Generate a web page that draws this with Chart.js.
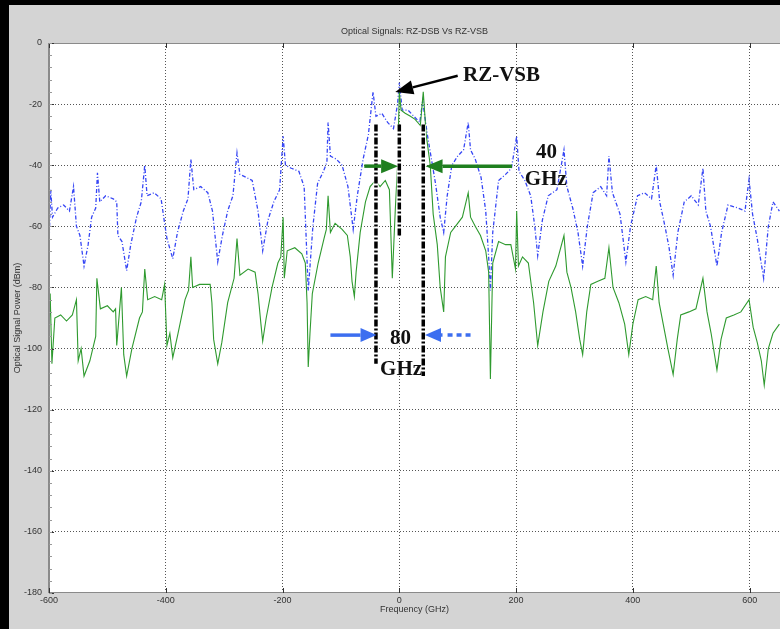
<!DOCTYPE html>
<html><head><meta charset="utf-8">
<script src="https://cdn.jsdelivr.net/npm/chart.js@4.4.0/dist/chart.umd.min.js"></script>
<style>html,body{margin:0;padding:0;background:#d4d4d4;overflow:hidden}canvas{display:block}</style>
</head><body>
<canvas id="c" width="780" height="629"></canvas>
<script>
// ---------- data ----------
const chartTitle = 'Optical Signals: RZ-DSB Vs RZ-VSB';
const xTitle = 'Frequency (GHz)';
const yTitle = 'Optical Signal Power (dBm)';
const xTicks = [-600, -400, -200, 0, 200, 400, 600];
const yTicks = [0, -20, -40, -60, -80, -100, -120, -140, -160, -180];

// RZ-VSB (green, solid)
const vsbFreq = [-600,-598,-595,-590,-580,-570,-560,-553,-550,-545,-540,-530,-520,-518,-512,-500,-490,-486,-484,-476,-472,-467,-458,-445,-440,-436,-431,-419,-407,-402,-398,-393,-388,-379,-367,-361,-357,-354,-342,-324,-321,-318,-311,-304,-294,-283,-278,-273,-259,-247,-242,-237,-234,-228,-218,-208,-203,-199,-197,-192,-179,-167,-161,-158,-156,-153,-149,-139,-129,-125,-122,-118,-110,-98,-89,-84,-81,-77,-74,-67,-58,-50,-41,-33,-24,-17,-12,-7,-3,0,3,10,19,27,36,41,46,53,58,65,70,76,79,88,96,108,118,122,130,139,148,153,156,160,170,182,191,199,201,204,211,221,230,237,246,256,268,282,287,294,302,309,314,321,328,340,352,359,366,376,386,393,400,409,422,434,440,445,452,460,469,476,482,496,508,520,527,534,544,551,560,573,585,599,606,613,620,625,632,640,651];
const vsbPower = [-95,-82,-105,-90,-89,-91,-89,-84,-104,-100,-109,-104,-96,-77,-87,-86,-88,-87,-99,-80,-102,-109,-100,-90,-88,-74,-84,-83,-84,-79,-99,-95,-103,-95,-84,-81,-70,-80,-79,-79,-85,-97,-105,-98,-85,-77,-64,-76,-74,-75,-82,-92,-97.6,-90,-80,-72,-70,-57,-77,-68,-67,-69,-72,-85,-106,-95,-82,-72,-64,-61,-50,-62,-59,-61,-63,-70,-78,-83,-75,-62,-52,-47,-45,-47,-45,-48,-77,-55,-40,-16,-22,-23,-24,-25,-27,-16,-30,-40,-56,-66,-80,-88,-70,-62,-60,-57,-49,-57,-60,-63,-68,-75,-110,-72,-65,-66,-66,-74,-55,-73,-70,-72,-85,-99,-88,-78,-73,-63,-75,-80,-88,-97,-102,-88,-79,-78,-77,-67,-80,-85,-92,-102,-92,-84,-83,-84,-73,-85,-92,-100,-108.5,-97,-89,-88,-87,-77,-88,-95,-107,-97,-90,-89,-88,-84,-93,-98,-104,-112,-100,-95,-92];

// RZ-DSB (blue, dash-dot)
const dsbFreq = [-600,-597,-594,-585,-575,-565,-558,-553,-547,-540,-533,-527,-520,-517,-513,-503,-490,-484,-482,-475,-467,-460,-450,-442,-436,-432,-420,-408,-402,-398,-388,-380,-370,-362,-357,-352,-340,-328,-320,-311,-303,-294,-285,-278,-273,-262,-252,-242,-234,-225,-215,-205,-199,-195,-185,-172,-163,-156,-148,-140,-130,-124,-122,-118,-108,-98,-88,-79,-72,-62,-53,-45,-40,-30,-20,-10,-3,0,5,15,25,35,40,48,55,62,70,76,82,90,100,110,118,122,130,140,148,153,156,160,170,182,192,201,205,215,225,232,237,245,255,270,282,287,297,306,314,322,332,345,355,359,365,378,388,396,408,420,432,440,446,455,462,469,477,488,500,512,520,525,533,544,552,563,580,592,599,605,613,624,632,640,651];
const dsbPower = [-66,-48,-57,-54,-53,-55,-47,-60,-63,-73,-66,-57,-54,-42.5,-52,-50,-51,-52,-63,-65,-74.5,-66,-57,-52,-40,-50,-49,-51,-59,-64,-70.6,-62,-55,-51,-38,-48,-47,-49,-55,-71.6,-63,-55,-50,-36,-43,-44,-45,-55,-68,-58,-52,-48,-30.5,-40,-41,-42,-47,-81,-60,-46,-42,-39,-26,-37,-38,-40,-47,-61,-50,-38,-30,-16,-24,-23,-26,-28,-20,-13,-22,-22,-24,-26,-19,-30,-38,-46,-57,-62,-50,-40,-37,-35,-26,-35,-38,-44,-55,-70,-81,-62,-45,-43,-41,-30.5,-42,-45,-50,-60,-69.6,-58,-50,-48,-35,-47,-54,-62,-73,-60,-49,-47,-50,-37,-49,-56,-71.6,-60,-50,-49,-51,-40,-52,-60,-67,-76,-62,-52,-50,-53,-41,-55,-60,-73,-62,-53,-54,-55,-44.6,-56,-64,-77,-60,-52,-55];

// annotation marks (data units)
const bracketLines = [[-40, -26.7, -105], [0, -26.7, -63], [41, -26.7, -109]];
const greenArrows = [[-60, -40.3, -2, -40.3], [193, -40.3, 45, -40.3]];
const blackArrow = [100, -10.7, -7, -16];
const blueArrows = [[-118, -95.6, -39, -95.6], [74, -95.6, 44, -95.6]];
const blueDotTail = [122, -95.6, 76, -95.6];
const labels = [['RZ-VSB', 175, -10.8], ['40', 252, -35.8], ['GHz', 251, -44.6], ['80', 2, -96.6], ['GHz', 3, -106.8]];

// ---------- plugins ----------
const FONT = '"Liberation Sans", Arial, sans-serif';
const bgPlugin = {
  id: 'bg',
  beforeDraw(chart) {
    const {ctx, chartArea: a} = chart;
    ctx.save();
    ctx.fillStyle = '#d4d4d4';
    ctx.fillRect(0, 0, chart.width, chart.height);
    ctx.fillStyle = '#000';
    ctx.fillRect(0, 0, chart.width, 5);
    ctx.fillRect(0, 0, 9, chart.height);
    ctx.fillStyle = '#fff';
    ctx.fillRect(a.left, a.top, a.right - a.left, a.bottom - a.top);
    ctx.restore();
  },
  afterDraw(chart) {
    const {ctx, chartArea: a, scales: {x, y}} = chart;
    ctx.save();
    ctx.strokeStyle = '#8a8a8a';
    ctx.lineWidth = 1;
    ctx.strokeRect(a.left + 0.5, a.top + 0.5, a.right - a.left, a.bottom - a.top - 1);
    ctx.lineWidth = 2;
    ctx.beginPath(); ctx.moveTo(a.left, a.top); ctx.lineTo(a.left, a.bottom); ctx.stroke();
    // major ticks (inside)
    ctx.strokeStyle = '#333'; ctx.lineWidth = 1;
    ctx.beginPath();
    xTicks.forEach(v => {
      const px = Math.round(x.getPixelForValue(v)) + 0.5;
      ctx.moveTo(px, a.top); ctx.lineTo(px, a.top + 5);
      ctx.moveTo(px, a.bottom); ctx.lineTo(px, a.bottom - 5);
    });
    yTicks.forEach(v => {
      const py = Math.round(y.getPixelForValue(v)) + 0.5;
      ctx.moveTo(a.left, py); ctx.lineTo(a.left + 5, py);
    });
    ctx.stroke();
    // minor ticks on y
    ctx.strokeStyle = '#999';
    ctx.beginPath();
    for (let v = -180; v <= 0; v += 4) {
      const py = Math.round(y.getPixelForValue(v)) + 0.5;
      ctx.moveTo(a.left, py); ctx.lineTo(a.left + 3, py);
    }
    ctx.stroke();
    ctx.restore();
  }
};

function arrow(ctx, x1, y1, x2, y2, color, w, hl, hw) {
  const ang = Math.atan2(y2 - y1, x2 - x1);
  const bx = x2 - hl * Math.cos(ang), by = y2 - hl * Math.sin(ang);
  ctx.strokeStyle = color; ctx.fillStyle = color; ctx.lineWidth = w; ctx.setLineDash([]);
  ctx.beginPath(); ctx.moveTo(x1, y1); ctx.lineTo(bx, by); ctx.stroke();
  ctx.beginPath();
  ctx.moveTo(x2, y2);
  ctx.lineTo(bx + hw * Math.sin(ang), by - hw * Math.cos(ang));
  ctx.lineTo(bx - hw * Math.sin(ang), by + hw * Math.cos(ang));
  ctx.closePath(); ctx.fill();
}

const annoPlugin = {
  id: 'anno',
  afterDatasetsDraw(chart) {
    const {ctx, scales: {x, y}} = chart;
    const X = v => x.getPixelForValue(v), Y = v => y.getPixelForValue(v);
    ctx.save();
    // bracket lines
    bracketLines.forEach(([fx, y1, y2]) => {
      ctx.strokeStyle = '#fff'; ctx.lineWidth = 5; ctx.setLineDash([]);
      ctx.beginPath(); ctx.moveTo(X(fx), Y(y1)); ctx.lineTo(X(fx), Y(y2)); ctx.stroke();
      ctx.strokeStyle = '#000'; ctx.lineWidth = 3.5; ctx.setLineDash([7, 2, 2, 2]);
      ctx.beginPath(); ctx.moveTo(X(fx), Y(y1)); ctx.lineTo(X(fx), Y(y2)); ctx.stroke();
    });
    ctx.setLineDash([]);
    greenArrows.forEach(a => arrow(ctx, X(a[0]), Y(a[1]), X(a[2]), Y(a[3]), '#1f7f1f', 3.5, 17, 7));
    arrow(ctx, X(blackArrow[0]), Y(blackArrow[1]), X(blackArrow[2]), Y(blackArrow[3]), '#000', 2.5, 18, 7);
    blueArrows.forEach(a => arrow(ctx, X(a[0]), Y(a[1]), X(a[2]), Y(a[3]), '#3c6ef0', 3.5, 16, 7));
    ctx.strokeStyle = '#3c6ef0'; ctx.lineWidth = 3.5; ctx.setLineDash([5, 4]);
    ctx.beginPath(); ctx.moveTo(X(blueDotTail[0]), Y(blueDotTail[1])); ctx.lineTo(X(blueDotTail[2]), Y(blueDotTail[3])); ctx.stroke();
    ctx.setLineDash([]);
    ctx.fillStyle = '#111';
    ctx.font = 'bold 21px "Liberation Serif", "Times New Roman", serif';
    ctx.textAlign = 'center'; ctx.textBaseline = 'middle';
    labels.forEach(([t, lx, ly]) => ctx.fillText(t, X(lx), Y(ly)));
    ctx.restore();
  }
};

// ---------- chart ----------
const toPts = (fx, fy) => fx.map((v, i) => ({x: v, y: fy[i]}));
const gridColor = ctx => (ctx.tick && (ctx.tick.value === -600 || ctx.tick.value === 0 && ctx.scale.axis === 'y' || ctx.tick.value === -180)) ? 'rgba(0,0,0,0)' : '#555';

new Chart(document.getElementById('c'), {
  type: 'line',
  data: {
    datasets: [
      {label: 'RZ-VSB', data: toPts(vsbFreq, vsbPower), borderColor: '#2f9a2f', borderWidth: 1.1, pointRadius: 0, tension: 0, order: 0},
      {label: 'RZ-DSB', data: toPts(dsbFreq, dsbPower), borderColor: '#3646f5', borderWidth: 1.3, borderDash: [4, 2, 1, 2], pointRadius: 0, tension: 0, order: 1}
    ]
  },
  options: {
    responsive: false, animation: false, events: [],
    layout: {padding: {left: 0, right: 0, top: 0, bottom: 0}},
    plugins: {
      legend: {display: false}, tooltip: {enabled: false},
      title: {display: true, text: chartTitle, fullSize: false, color: '#333', font: {family: FONT, size: 9, weight: 'normal'}, padding: {top: 26, bottom: 6.2}}
    },
    scales: {
      x: {
        type: 'linear', min: -600, max: 652,
        afterBuildTicks: s => { s.ticks = xTicks.map(v => ({value: v})); },
        afterFit: s => { s.height = 36; },
        ticks: {color: '#333', font: {family: FONT, size: 9}, padding: 2, maxRotation: 0, autoSkip: false},
        grid: {color: gridColor, lineWidth: 1, drawTicks: false},
        border: {display: false, dash: [1, 2]},
        title: {display: true, text: xTitle, color: '#333', font: {family: FONT, size: 9}, padding: {top: 0, bottom: 13.6}}
      },
      y: {
        type: 'linear', min: -180, max: 0,
        afterBuildTicks: s => { s.ticks = yTicks.map(v => ({value: v})); },
        afterFit: s => { s.width = 49; },
        ticks: {color: '#333', font: {family: FONT, size: 9}, padding: 7, autoSkip: false},
        grid: {color: gridColor, lineWidth: 1, drawTicks: false},
        border: {display: false, dash: [1, 2]},
        title: {display: true, text: yTitle, color: '#333', font: {family: FONT, size: 9}, padding: {top: 12.6, bottom: 0}}
      }
    }
  },
  plugins: [bgPlugin, annoPlugin]
});
</script>
</body></html>
